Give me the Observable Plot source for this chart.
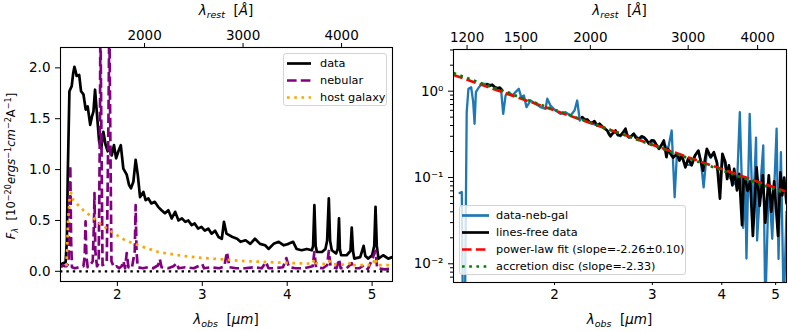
<!DOCTYPE html>
<html><head><meta charset="utf-8">
<script src="https://cdn.jsdelivr.net/npm/d3@7"></script>
<script src="https://cdn.jsdelivr.net/npm/@observablehq/plot@0.6"></script>
<style>
body{margin:0;background:#fff;font-family:"DejaVu Sans",sans-serif;}
#wrap{position:relative;width:788px;height:331px;overflow:hidden;background:#fff}
.panel{position:absolute;top:0}
.lab{position:absolute;font-size:13.5px;white-space:nowrap;color:#000;transform:translate(-50%,-50%);line-height:1}
.lab sub{font-size:70%;vertical-align:-0.3em;line-height:0}
.lab sup{font-size:70%;vertical-align:0.55em;line-height:0}
.rot{transform:translate(-50%,-50%) rotate(-90deg);font-size:11.6px}
.legend{position:absolute;border:1px solid #d4d4d4;border-radius:3px;background:rgba(255,255,255,0.8);font-size:11.3px;box-sizing:border-box}
.row{position:absolute;left:0;height:17px;line-height:17px;white-space:nowrap}
.row svg{position:absolute;top:3px}
.row span{position:absolute;top:0}
</style>
</head><body>
<div id="wrap"></div>
<script>
// ---------- data ----------
const onePlusZ = 11.6;
// left panel (linear)
const dataWave = [1.335,1.36,1.39,1.405,1.415,1.435,1.462,1.48,1.494,1.51,1.52,1.55,1.572,1.60,1.627,1.65,1.68,1.70,1.718,1.737,1.757,1.785,1.81,1.835,1.862,1.886,1.914,1.933,1.96,1.985,2.012,2.04,2.07,2.11,2.137,2.16,2.188,2.215,2.24,2.267,2.306,2.333,2.365,2.40,2.44,2.48,2.52,2.56,2.60,2.64,2.68,2.72,2.76,2.80,2.835,2.875,2.91,2.95,2.99,3.03,3.07,3.11,3.15,3.19,3.23,3.255,3.285,3.35,3.41,3.45,3.51,3.565,3.62,3.68,3.74,3.78,3.84,3.90,3.96,4.015,4.07,4.11,4.17,4.23,4.29,4.305,4.32,4.335,4.35,4.41,4.45,4.47,4.49,4.505,4.525,4.575,4.595,4.61,4.62,4.635,4.70,4.745,4.76,4.775,4.79,4.86,4.90,4.92,4.955,5.0,5.025,5.04,5.055,5.075,5.13,5.19,5.24];
const dataFlux = [0.07,0.08,0.09,0.3,0.92,1.77,1.82,1.95,2.01,1.96,1.92,1.93,1.77,1.74,1.59,1.62,1.44,1.52,1.57,1.785,1.57,1.275,1.21,1.37,1.24,1.18,1.21,1.14,1.24,1.11,1.18,1.24,1.01,0.95,0.85,0.815,0.88,1.095,0.95,0.73,0.78,0.70,0.717,0.667,0.683,0.634,0.60,0.57,0.60,0.52,0.585,0.50,0.52,0.486,0.50,0.454,0.47,0.42,0.437,0.40,0.42,0.37,0.40,0.338,0.32,0.486,0.37,0.34,0.32,0.29,0.305,0.27,0.32,0.27,0.256,0.22,0.27,0.29,0.256,0.27,0.29,0.22,0.207,0.22,0.207,0.25,0.65,0.25,0.19,0.19,0.22,0.3,0.717,0.3,0.207,0.175,0.22,0.52,0.22,0.158,0.158,0.2,0.43,0.2,0.125,0.14,0.25,0.15,0.125,0.158,0.25,0.634,0.25,0.125,0.158,0.125,0.14];
const nebWave = [1.335,1.36,1.38,1.40,1.425,1.435,1.445,1.455,1.465,1.50,1.55,1.60,1.615,1.625,1.635,1.65,1.68,1.71,1.725,1.73,1.74,1.76,1.78,1.795,1.80,1.81,1.825,1.86,1.875,1.895,1.905,1.915,1.93,1.96,1.99,2.02,2.05,2.07,2.09,2.11,2.13,2.17,2.205,2.215,2.225,2.24,2.30,2.36,2.42,2.48,2.50,2.52,2.60,2.66,2.70,2.72,2.80,2.90,2.95,3.00,3.02,3.10,3.20,3.26,3.29,3.32,3.40,3.50,3.60,3.70,3.75,3.78,3.85,3.95,3.99,4.02,4.10,4.20,4.30,4.32,4.34,4.42,4.47,4.49,4.51,4.58,4.61,4.63,4.70,4.76,4.78,4.85,4.90,4.95,5.04,5.06,5.15,5.24];
const nebFlux = [0.04,0.06,0.05,0.05,0.08,0.6,1.04,0.3,0.04,0.03,0.04,0.05,0.15,0.49,0.15,0.04,0.06,0.1,0.5,0.77,0.2,0.05,0.08,1.5,2.5,1.5,0.06,0.08,0.1,1.5,2.5,1.5,0.1,0.04,0.05,0.03,0.05,0.1,0.03,0.18,0.04,0.03,0.2,0.65,0.2,0.04,0.03,0.04,0.03,0.06,0.12,0.04,0.03,0.05,0.08,0.03,0.04,0.03,0.05,0.07,0.03,0.04,0.03,0.05,0.19,0.04,0.03,0.03,0.04,0.03,0.09,0.03,0.03,0.04,0.13,0.04,0.03,0.03,0.05,0.19,0.04,0.03,0.06,0.2,0.05,0.03,0.12,0.03,0.03,0.08,0.03,0.03,0.06,0.02,0.2,0.03,0.02,0.03];
const hostWave = [1.40,1.42,1.44,1.455,1.48,1.50,1.54,1.60,1.70,1.815,1.93,2.09,2.245,2.48,2.72,2.95,3.27,3.5,3.8,4.1,4.3,4.32,4.34,4.45,4.5,4.52,4.7,4.76,4.78,5.0,5.04,5.06,5.24];
const hostFlux = [0.05,0.5,0.75,0.77,0.70,0.68,0.65,0.60,0.535,0.454,0.39,0.305,0.256,0.19,0.158,0.135,0.115,0.1,0.09,0.08,0.075,0.12,0.08,0.07,0.1,0.07,0.065,0.09,0.06,0.06,0.13,0.06,0.06];
// right panel (log-log)
const subWave = [1.350,1.362,1.368,1.380,1.39,1.40,1.416,1.428,1.436,1.444,1.462,1.482,1.513,1.545,1.578,1.603,1.617,1.633,1.655,1.679,1.702,1.725,1.742,1.762,1.781,1.811,1.849,1.887,1.927,1.941,1.967,2.008,2.05,2.093,2.137,2.173,2.197,2.221,2.243,2.29,2.338,2.387,2.437,2.488,2.522,2.575,2.629,2.684,2.721,2.778,2.836,2.896,2.957,3.019,3.082,3.146,3.20,3.25,3.29,3.32,3.39,3.44,3.53,3.58,3.63,3.67,3.71,3.76,3.82,3.87,3.92,3.97,4.01,4.09,4.18,4.26,4.31,4.37,4.41,4.43,4.49,4.55,4.61,4.63,4.68,4.75,4.79,4.86,4.93,5.02,5.06,5.11,5.17,5.23];
const subFlux = [0.066,0.068,0.003,0.003,0.571,1.066,1.11,0.746,0.419,0.974,1.11,1.218,1.218,1.164,1.066,1.019,0.547,0.892,0.974,0.892,0.974,1.066,0.852,0.892,0.653,0.78,0.714,0.653,0.625,0.817,0.683,0.597,0.547,0.571,0.523,0.597,0.78,0.4575,0.50,0.46,0.42,0.40,0.39,0.35,0.31,0.34,0.30,0.36,0.29,0.32,0.28,0.29,0.25,0.26,0.22,0.25,0.21,0.35,0.059,0.18,0.17,0.14,0.14,0.18,0.2,0.15,0.077,0.2,0.17,0.19,0.15,0.08,0.18,0.11,0.09,0.08,0.571,0.026,0.09,0.0115,0.547,0.03,0.29,0.0186,0.06,0.235,0.003,0.09,0.0195,0.367,0.0114,0.196,0.003,0.04];
const freeWaveA = [1.513,1.53,1.545,1.56,1.578,1.595,1.61];
const freeFluxA = [1.2,1.15,1.19,1.12,1.08,1.1,1.03];
const freeWaveB = [2.243,2.265,2.29,2.31,2.338,2.36,2.387,2.41,2.437,2.46,2.488,2.505,2.522,2.55,2.575,2.60,2.629,2.655,2.684,2.70,2.721,2.75,2.778,2.80,2.836,2.87,2.896,2.93,2.957,2.99,3.019,3.05,3.082,3.10,3.146,3.18,3.20,3.23,3.27,3.32,3.355,3.39,3.44,3.48,3.53,3.58,3.63,3.67,3.70,3.76,3.82,3.87,3.92,3.97,4.01,4.06,4.09,4.12,4.18,4.21,4.26,4.30,4.35,4.38,4.41,4.45,4.50,4.55,4.62,4.68,4.74,4.79,4.86,4.91,4.97,5.05,5.10,5.14,5.18,5.23];
const freeFluxB = [0.50,0.46,0.47,0.44,0.43,0.45,0.40,0.42,0.39,0.37,0.35,0.32,0.30,0.33,0.35,0.31,0.307,0.33,0.367,0.31,0.293,0.30,0.321,0.29,0.28,0.30,0.293,0.27,0.246,0.27,0.268,0.24,0.215,0.2245,0.268,0.172,0.215,0.19,0.17,0.188,0.157,0.18,0.131,0.165,0.138,0.18,0.205,0.15,0.12,0.215,0.172,0.196,0.15,0.057,0.188,0.15,0.096,0.138,0.081,0.126,0.071,0.11,0.028,0.1,0.096,0.07,0.09,0.021,0.131,0.047,0.106,0.030,0.106,0.040,0.09,0.021,0.115,0.062,0.1,0.05];
const plWave = [1.316,5.2], plFlux = [1.543,0.0692];
const discWave = [1.316,5.2], discFlux = [1.618,0.0658];
// ticks
const leftXTicks = [2,3,4,5], leftYTicks = [0,0.5,1,1.5,2];
const leftRestTicks = [2000,3000,4000];
const rightXTicks = [2,3,4,5];
const rightRestTicks = [1200,1500,2000,3000,4000];
const rightYTicks = [0.01,0.1,1], rightYLabels = ["10\u207B\u00B2","10\u207B\u00B9","10\u2070"];
const rightYMinor = [0.007,0.008,0.009,0.02,0.03,0.04,0.05,0.06,0.07,0.08,0.09,0.2,0.3,0.4,0.5,0.6,0.7,0.8,0.9,2,3];

const tbl = (w,f) => w.map((x,i)=>({w:x,f:f[i]}));
const toObs = r => r*onePlusZ/1e4;
const toRest = o => String(Math.round(o*1e4/onePlusZ/100)*100);

const font = {fontFamily:"DejaVu Sans", fontSize:"13.5px", color:"black", background:"transparent", overflow:"visible"};
const PURPLE="#800080", ORANGE="#FFA500", BLUE="#1f77b4";
const DASH="9.6,4.2", DOT="2.7,4.5";

const left = Plot.plot({
  width:400, height:331, marginLeft:60, marginRight:8, marginTop:47, marginBottom:50,
  style:font,
  x:{domain:[1.33,5.24]}, y:{domain:[-0.1,2.2]},
  marks:[
    Plot.line(tbl(dataWave,dataFlux),{x:"w",y:"f",stroke:"black",strokeWidth:2.7,clip:true}),
    Plot.line(tbl(nebWave,nebFlux),{x:"w",y:"f",stroke:PURPLE,strokeWidth:2.7,strokeDasharray:DASH,strokeLinecap:"butt",clip:true}),
    Plot.line(tbl(hostWave,hostFlux),{x:"w",y:"f",stroke:ORANGE,strokeWidth:2.7,strokeDasharray:DOT,strokeLinecap:"butt",clip:true}),
    Plot.ruleY([0],{stroke:"black",strokeWidth:2.4,strokeDasharray:"2.4,4",strokeLinecap:"butt"}),
    Plot.frame({stroke:"black",strokeWidth:1.1}),
    Plot.axisX(leftXTicks,{anchor:"bottom",tickSize:5,tickPadding:3,label:null,tickFormat:d=>String(d)}),
    Plot.axisY(leftYTicks,{anchor:"left",tickSize:5,tickPadding:5,label:null,tickFormat:d3.format(".1f")}),
    Plot.axisX(leftRestTicks.map(toObs),{anchor:"top",tickSize:5,tickPadding:3,label:null,tickFormat:toRest})
  ]
});

const yLab = new Map(rightYTicks.map((v,i)=>[v,rightYLabels[i]]));
const right = Plot.plot({
  width:388, height:331, marginLeft:53, marginRight:2, marginTop:49, marginBottom:49,
  style:font,
  x:{type:"log",domain:[1.316,5.23]}, y:{type:"log",domain:[0.00607,3.04]},
  marks:[
    Plot.line(tbl(subWave,subFlux),{x:"w",y:"f",stroke:BLUE,strokeWidth:2.3,clip:true}),
    Plot.line(tbl(freeWaveA,freeFluxA),{x:"w",y:"f",stroke:"black",strokeWidth:2.7,clip:true}),
    Plot.line(tbl(freeWaveB,freeFluxB),{x:"w",y:"f",stroke:"black",strokeWidth:2.7,clip:true}),
    Plot.line(tbl(plWave,plFlux),{x:"w",y:"f",stroke:"red",strokeWidth:2.7,strokeDasharray:DASH,strokeLinecap:"butt",clip:true}),
    Plot.line(tbl(discWave,discFlux),{x:"w",y:"f",stroke:"green",strokeWidth:2.7,strokeDasharray:DOT,strokeLinecap:"butt",clip:true}),
    Plot.frame({stroke:"black",strokeWidth:1.1}),
    Plot.axisX(rightXTicks,{anchor:"bottom",tickSize:3,tickPadding:4,label:null,tickFormat:d=>String(d)}),
    Plot.axisY(rightYTicks,{anchor:"left",tickSize:5,tickPadding:5,label:null,tickFormat:d=>yLab.get(d)}),
    Plot.axisY(rightYMinor,{anchor:"left",tickSize:3,label:null,tickFormat:()=>""}),
    Plot.axisX(rightRestTicks.map(toObs),{anchor:"top",tickSize:5,tickPadding:3,label:null,tickFormat:toRest})
  ]
});

const wrap = document.getElementById("wrap");
left.classList.add("panel"); left.style.left="0px";
right.classList.add("panel"); right.style.left="400px";
wrap.appendChild(left); wrap.appendChild(right);

function label(html,x,y,cls){
  const d=document.createElement("div"); d.className="lab"+(cls?" "+cls:""); d.innerHTML=html;
  d.style.left=x+"px"; d.style.top=y+"px"; wrap.appendChild(d);
}
const restLab = '<i>λ</i><sub><i>rest</i></sub>&nbsp;&nbsp;[<i>Å</i>]';
const obsLab = '<i>λ</i><sub><i>obs</i></sub>&nbsp;&nbsp;[<i>μm</i>]';
label(restLab,226,11); label(restLab,619.5,11);
label(obsLab,226,320); label(obsLab,619.5,320);
label('<i>F</i><sub><i>λ</i></sub>&nbsp;&nbsp;[10<sup>−20</sup><i>ergs</i><sup>−1</sup><i>cm</i><sup>−2</sup>A<sup>−1</sup>]',12,166,"rot");

function legend(x,y,w,h,items,rows){
  const box=document.createElement("div"); box.className="legend";
  Object.assign(box.style,{left:x+"px",top:y+"px",width:w+"px",height:h+"px"});
  items.forEach((it,i)=>{
    const r=document.createElement("div"); r.className="row"; r.style.top=(rows[i]-8.5)+"px";
    r.innerHTML=`<svg width="40" height="11" style="left:0"><line x1="${it.x0}" x2="${it.x1}" y1="5.5" y2="5.5" stroke="${it.c}" stroke-width="2.7" ${it.d?`stroke-dasharray="${it.d}" stroke-linecap="butt"`:""}/></svg><span style="left:${it.tx}px">${it.t}</span>`;
    box.appendChild(r);
  });
  wrap.appendChild(box);
}
legend(283,53,104,53,[
  {t:"data",c:"black",x0:3,x1:27,tx:36},
  {t:"nebular",c:PURPLE,d:DASH,x0:3,x1:27,tx:36},
  {t:"host galaxy",c:ORANGE,d:DOT,x0:3,x1:27,tx:36}
],[9,26,43]);
legend(459,205,227,70,[
  {t:"data-neb-gal",c:BLUE,x0:2,x1:29,tx:36},
  {t:"lines-free data",c:"black",x0:2,x1:29,tx:36},
  {t:"power-law fit (slope=-2.26±0.10)",c:"red",d:DASH,x0:2,x1:29,tx:36},
  {t:"accretion disc (slope=-2.33)",c:"green",d:DOT,x0:2,x1:29,tx:36}
],[9,26,43,60]);
</script>
</body></html>
